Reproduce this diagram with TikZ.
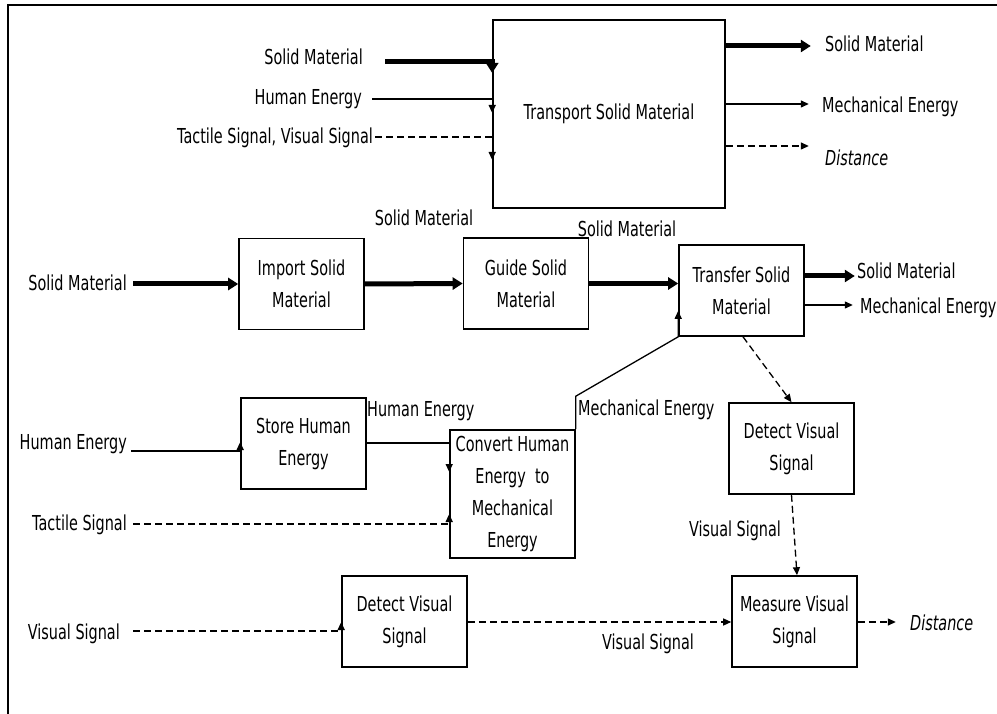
\documentclass[tikz,border=0pt]{standalone}
\usepackage{fontspec}
\setmainfont{DejaVu Sans}[FakeStretch=0.70]
\usetikzlibrary{arrows.meta}
\begin{document}
\begin{tikzpicture}[x=1pt,y=-1pt,
  txt/.style={inner sep=0pt, font=\fontsize{20.6}{32}\selectfont},
  lbl/.style={txt, text height=15pt, text depth=4pt},
  fbox/.style={draw, line width=1.6pt, txt, align=center,
               minimum width=125pt, minimum height=91pt},
  flow/.style={line width=1.3pt, -{Triangle[length=8pt,width=7pt]}},
  sig/.style={flow, dash pattern=on 7pt off 4pt},
  mat/.style={line width=5pt, -{Triangle[length=10pt,width=12pt]}},
]
\useasboundingbox (0,0) rectangle (997,714);

% frame
\draw[line width=2.5pt] (8,714) -- (8,5) -- (997,5);

% function blocks
\node[fbox, minimum width=232pt, minimum height=188pt] (tsm) at (609,114) {Transport Solid Material};
\node[fbox] (imp) at (301.5,284) {Import Solid\\Material};
\node[fbox] (gui) at (526,283.5) {Guide Solid\\Material};
\node[fbox] (tra) at (741.5,290.5) {Transfer Solid\\Material};
\node[fbox] (dvr) at (791.5,448.5) {Detect Visual\\Signal};
\node[fbox] (mvs) at (794.5,621.5) {Measure Visual\\Signal};
\node[fbox] (shu) at (303.5,443.5) {Store Human\\Energy};
\node[fbox, minimum height=128pt] (cvt) at (512.5,494) {Convert Human\\Energy~~to\\Mechanical\\Energy};
\node[fbox] (dvl) at (404.5,621.5) {Detect Visual\\Signal};

% top level: inputs
\node[lbl, anchor=east] (l1) at (363,59) {Solid Material};
\node[lbl, anchor=east] (l2) at (362,99) {Human Energy};
\node[lbl, anchor=east] (l3) at (373,138) {Tactile Signal, Visual Signal};
\draw[mat]  (l1.east) ++(22,3) -- (tsm.west |- 0,62) -- ++(0,11);
\draw[flow] (l2.east) ++(10,0) -- (tsm.west |- 0,99) -- ++(0,14);
\draw[sig]  (l3.east) ++(2,-1) -- (tsm.west |- 0,137) -- ++(0,23);

% top level: outputs
\node[lbl, anchor=west] (r1) at (825,46) {Solid Material};
\node[lbl, anchor=west] (r2) at (822,107) {Mechanical Energy};
\node[lbl, anchor=west] (r3) at (825,160) {\itshape Distance};
\draw[mat]  (tsm.east |- 0,46) -- ++(85,0);
\draw[flow] (tsm.east |- 0,104) -- ++(83,0);
\draw[sig]  (tsm.east |- 0,146) -- ++(83,0);

% material chain
\node[lbl, anchor=east] (sm0) at (127,285) {Solid Material};
\node[lbl] (sm1) at (424,220) {Solid Material};
\node[lbl] (sm2) at (627,231) {Solid Material};
\draw[mat] (sm0.east) ++(6,-1) -- (imp.west);
\draw[mat] (imp.east) -- (gui.west);
\draw[mat] (gui.east) -- (tra.west |- gui.east);

% transfer outputs
\node[lbl, anchor=west] (sm3) at (857,273) {Solid Material};
\node[lbl, anchor=west] (me1) at (860,308) {Mechanical Energy};
\draw[mat]  (tra.east |- 0,276) -- ++(50,0);
\draw[flow] (tra.east |- 0,305) -- ++(48,0);
\draw[sig]  ([xshift=1.5pt]tra.south) -- (dvr.north);

% energy conversion
\node[lbl, anchor=east] (he0) at (127,444) {Human Energy};
\node[lbl, anchor=west] (he1) at (367,411) {Human Energy};
\node[lbl, anchor=east] (ts0) at (127,525) {Tactile Signal};
\node[lbl, anchor=west] (me2) at (578,410) {Mechanical Energy};
\draw[flow] (he0.east) ++(4,7) -- (shu.west |- 0,451) -- ++(0,-9);
\draw[flow] (shu.east |- 0,443) -- (cvt.west |- 0,443) -- ++(0,29);
\draw[sig]  (ts0.east) ++(6,-1) -- (cvt.west |- 0,524) -- ++(0,-10);
\draw[flow] (cvt.north east) -- ++(0,-33) -- (tra.south west) -- ++(0,-26);

% visual signal path
\node[lbl, anchor=east] (vs0) at (120,634) {Visual Signal};
\node[lbl] (vs1) at (648,644) {Visual Signal};
\node[lbl] (vs2) at (735,531) {Visual Signal};
\node[lbl, anchor=west] (ds) at (910,625) {\itshape Distance};
\draw[sig] (vs0.east) ++(13,-3) -- (dvl.west |- 0,631) -- ++(0,-9);
\draw[sig] (dvl.east |- 0,622) -- (mvs.west |- 0,622);
\draw[sig] (dvr.south) -- ([xshift=2.5pt]mvs.north);
\draw[sig] (mvs.east |- 0,622) -- ++(38,0);
\end{tikzpicture}
\end{document}
